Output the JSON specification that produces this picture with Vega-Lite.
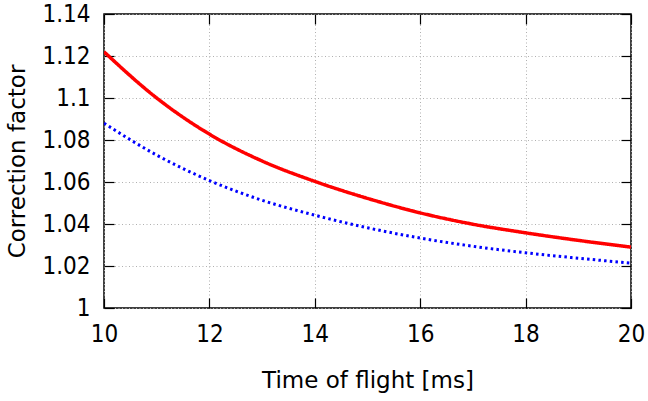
{
  "$schema": "https://vega.github.io/schema/vega-lite/v6.json",
  "autosize": "none",
  "width": 527,
  "height": 294,
  "padding": {"left": 104, "top": 14, "right": 17, "bottom": 93},
  "background": "white",
  "config": {
    "font": "DejaVu Sans",
    "view": {"stroke": "black", "strokeWidth": 1.5},
    "axis": {
      "labelFont": "DejaVu Sans Condensed",
      "titleFont": "DejaVu Sans",
      "labelFontSize": 24,
      "titleFontSize": 23,
      "titleFontWeight": "normal",
      "labelColor": "black",
      "titleColor": "black",
      "labelFlush": false,
      "domain": false,
      "tickColor": "black",
      "tickSize": -10,
      "tickWidth": 1.2,
      "gridColor": "#b0b0b0",
      "gridDash": [1, 2.5],
      "gridWidth": 1
    }
  },
  "data": {
    "values": [
      {"t": 10, "f": 1.122, "s": "a"}, {"t": 11, "f": 1.1000, "s": "a"}, {"t": 12, "f": 1.0828, "s": "a"},
      {"t": 13, "f": 1.0700, "s": "a"}, {"t": 14, "f": 1.0603, "s": "a"}, {"t": 15, "f": 1.0522, "s": "a"},
      {"t": 16, "f": 1.0453, "s": "a"}, {"t": 17, "f": 1.0399, "s": "a"}, {"t": 18, "f": 1.0358, "s": "a"},
      {"t": 19, "f": 1.0322, "s": "a"}, {"t": 20, "f": 1.029, "s": "a"},
      {"t": 10, "f": 1.088, "s": "b"}, {"t": 11, "f": 1.0728, "s": "b"}, {"t": 12, "f": 1.0607, "s": "b"},
      {"t": 13, "f": 1.0513, "s": "b"}, {"t": 14, "f": 1.0442, "s": "b"}, {"t": 15, "f": 1.0382, "s": "b"},
      {"t": 16, "f": 1.0333, "s": "b"}, {"t": 17, "f": 1.0294, "s": "b"}, {"t": 18, "f": 1.0263, "s": "b"},
      {"t": 19, "f": 1.0237, "s": "b"}, {"t": 20, "f": 1.0214, "s": "b"}
    ]
  },
  "layer": [
    {
      "mark": {"type": "line", "interpolate": "monotone", "clip": true},
      "encoding": {
        "x": {"field": "t", "type": "quantitative", "scale": {"domain": [10, 20], "nice": false},
              "axis": {"values": [10, 12, 14, 16, 18, 20], "grid": true, "title": "Time of flight [ms]", "labelPadding": 24, "titlePadding": 23}},
        "y": {"field": "f", "type": "quantitative", "scale": {"domain": [1, 1.14], "nice": false, "zero": false},
              "axis": {"values": [1, 1.02, 1.04, 1.06, 1.08, 1.1, 1.12, 1.14], "grid": true, "title": "Correction factor", "labelPadding": 24, "titlePadding": 12, "labelExpr": "datum.value == 1 ? '1' : datum.value == 1.1 ? '1.1' : datum.label"}},
        "color": {"field": "s", "type": "nominal", "scale": {"domain": ["a", "b"], "range": ["#ff0000", "#0000ff"]}, "legend": null},
        "strokeDash": {"field": "s", "type": "nominal", "scale": {"domain": ["a", "b"], "range": [[1, 0], [2.5, 3.2]]}, "legend": null},
        "strokeWidth": {"field": "s", "type": "nominal", "scale": {"domain": ["a", "b"], "range": [3.5, 3]}, "legend": null}
      }
    },
    {
      "mark": {"type": "point", "opacity": 0},
      "encoding": {
        "x": {"field": "t", "type": "quantitative", "scale": {"domain": [10, 20], "nice": false},
              "axis": {"orient": "top", "values": [10, 12, 14, 16, 18, 20], "labels": false, "title": null, "grid": false}},
        "y": {"field": "f", "type": "quantitative", "scale": {"domain": [1, 1.14], "nice": false, "zero": false},
              "axis": {"orient": "right", "values": [1, 1.02, 1.04, 1.06, 1.08, 1.1, 1.12, 1.14], "labels": false, "title": null, "grid": false}}
      }
    }
  ],
  "resolve": {"scale": {"x": "independent", "y": "independent"}}
}
